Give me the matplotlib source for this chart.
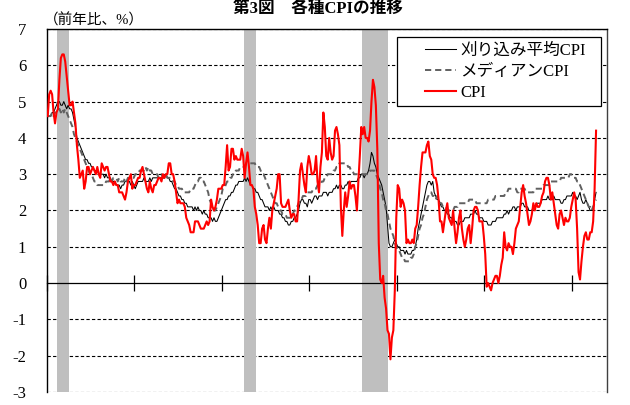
import numpy as np
import pandas as pd
import matplotlib
matplotlib.use("Agg")
import matplotlib.pyplot as plt
from matplotlib.patches import Rectangle

plt.rcParams['font.family'] = ['Liberation Serif', 'Noto Sans CJK JP']

# Monthly observations, Dec 1989 - Apr 2021 (year-over-year, %)
months = pd.period_range("1989-12", "2021-04", freq="M")

cpi = [
    4.6,
    5.2, 5.3, 5.2, 4.7, 4.4, 4.7, 4.8, 5.6, 6.2, 6.3, 6.3, 6.1,   # 1990
    5.7, 5.3, 4.9, 4.9, 5.0, 4.7, 4.4, 3.8, 3.4, 2.9, 3.0, 3.1,   # 1991
    2.6, 2.8, 3.2, 3.2, 3.0, 3.1, 3.2, 3.1, 3.0, 3.2, 3.0, 2.9,   # 1992
    3.3, 3.2, 3.1, 3.2, 3.2, 3.0, 2.8, 2.8, 2.7, 2.8, 2.7, 2.7,   # 1993
    2.5, 2.5, 2.5, 2.4, 2.3, 2.5, 2.8, 2.9, 3.0, 2.6, 2.7, 2.7,   # 1994
    2.8, 2.9, 2.9, 3.1, 3.2, 3.0, 2.8, 2.6, 2.5, 2.8, 2.6, 2.5,   # 1995
    2.7, 2.7, 2.8, 2.9, 2.9, 2.8, 3.0, 2.9, 3.0, 3.0, 3.3, 3.3,   # 1996
    3.0, 3.0, 2.8, 2.5, 2.2, 2.3, 2.2, 2.2, 2.2, 2.1, 1.8, 1.7,   # 1997
    1.6, 1.4, 1.4, 1.4, 1.7, 1.7, 1.7, 1.6, 1.5, 1.5, 1.5, 1.6,   # 1998
    1.7, 1.6, 1.7, 2.3, 2.1, 2.0, 2.1, 2.3, 2.6, 2.6, 2.6, 2.7,   # 1999
    2.7, 3.2, 3.8, 3.1, 3.2, 3.7, 3.7, 3.4, 3.5, 3.4, 3.4, 3.4,   # 2000
    3.7, 3.5, 2.9, 3.3, 3.6, 3.2, 2.7, 2.7, 2.6, 2.1, 1.9, 1.6,   # 2001
    1.1, 1.1, 1.5, 1.6, 1.2, 1.1, 1.5, 1.8, 1.5, 2.0, 2.2, 2.4,   # 2002
    2.6, 3.0, 3.0, 2.2, 2.1, 2.1, 2.1, 2.2, 2.3, 2.0, 1.8, 1.9,   # 2003
    1.9, 1.7, 1.7, 2.3, 3.1, 3.3, 3.0, 2.7, 2.5, 3.2, 3.5, 3.3,   # 2004
    3.0, 3.0, 3.1, 3.5, 2.8, 2.5, 3.2, 3.6, 4.7, 4.3, 3.5, 3.4,   # 2005
    4.0, 3.6, 3.4, 3.5, 4.2, 4.3, 4.1, 3.8, 2.1, 1.3, 2.0, 2.5,   # 2006
    2.1, 2.4, 2.8, 2.6, 2.7, 2.7, 2.4, 2.0, 2.8, 3.5, 4.3, 4.1,   # 2007
    4.3, 4.0, 4.0, 3.9, 4.2, 5.0, 5.6, 5.4, 4.9, 3.7, 1.1, 0.1,   # 2008
    0.0, 0.2, -0.4, -0.7, -1.3, -1.4, -2.1, -1.5, -1.3, -0.2, 1.8, 2.7,  # 2009
    2.6, 2.1, 2.3, 2.2, 2.0, 1.1, 1.2, 1.1, 1.1, 1.2, 1.1, 1.5,   # 2010
    1.6, 2.1, 2.7, 3.2, 3.6, 3.6, 3.6, 3.8, 3.9, 3.5, 3.4, 3.0,   # 2011
    2.9, 2.9, 2.7, 2.3, 1.7, 1.7, 1.4, 1.7, 2.0, 2.2, 1.8, 1.7,   # 2012
    1.6, 2.0, 1.5, 1.1, 1.4, 1.8, 2.0, 1.5, 1.2, 1.0, 1.2, 1.5,   # 2013
    1.6, 1.1, 1.5, 2.0, 2.1, 2.1, 2.0, 1.7, 1.7, 1.7, 1.3, 0.8,   # 2014
    -0.1, 0.0, -0.1, -0.2, 0.0, 0.1, 0.2, 0.2, 0.0, 0.2, 0.5, 0.7,  # 2015
    1.4, 1.0, 0.9, 1.1, 1.0, 1.0, 0.8, 1.1, 1.5, 1.6, 1.7, 2.1,   # 2016
    2.5, 2.7, 2.4, 2.2, 1.9, 1.6, 1.7, 1.9, 2.2, 2.0, 2.2, 2.1,   # 2017
    2.1, 2.2, 2.4, 2.5, 2.8, 2.9, 2.9, 2.7, 2.3, 2.5, 2.2, 1.9,   # 2018
    1.6, 1.5, 1.9, 2.0, 1.8, 1.6, 1.8, 1.7, 1.7, 1.8, 2.1, 2.3,   # 2019
    2.5, 2.3, 1.5, 0.3, 0.1, 0.6, 1.0, 1.3, 1.4, 1.2, 1.2, 1.4,   # 2020
    1.4, 1.7, 2.6, 4.2,                                           # 2021
]

trimmed_mean = [
    4.6,
    4.6, 4.6, 4.7, 4.7, 4.8, 4.9, 5.0, 5.0, 4.9, 4.9, 5.0, 4.9,   # 1990
    4.8, 4.9, 4.8, 4.8, 4.7, 4.5, 4.3, 4.0, 3.9, 3.8, 3.7, 3.6,   # 1991
    3.5, 3.4, 3.4, 3.3, 3.3, 3.2, 3.2, 3.1, 3.1, 3.1, 3.0, 3.0,   # 1992
    3.0, 3.0, 2.9, 3.0, 2.9, 2.9, 2.9, 2.8, 2.8, 2.8, 2.7, 2.7,   # 1993
    2.7, 2.6, 2.7, 2.7, 2.8, 2.8, 2.8, 2.8, 2.7, 2.8, 2.7, 2.6,   # 1994
    2.7, 2.8, 2.8, 2.8, 2.8, 2.9, 2.8, 2.8, 2.8, 2.9, 2.8, 2.9,   # 1995
    2.9, 2.9, 2.9, 2.9, 2.9, 2.9, 2.9, 2.9, 3.0, 2.9, 2.9, 2.8,   # 1996
    2.8, 2.7, 2.6, 2.6, 2.5, 2.4, 2.4, 2.3, 2.3, 2.2, 2.2, 2.1,   # 1997
    2.1, 2.1, 2.1, 2.0, 2.1, 2.0, 2.1, 2.0, 2.0, 1.9, 2.0, 1.9,   # 1998
    1.9, 1.8, 1.8, 1.8, 1.7, 1.8, 1.7, 1.7, 1.8, 1.9, 2.0, 2.1,   # 1999
    2.2, 2.3, 2.3, 2.4, 2.4, 2.5, 2.5, 2.6, 2.7, 2.7, 2.8, 2.8,   # 2000
    2.8, 2.8, 2.9, 2.8, 2.9, 2.8, 2.7, 2.7, 2.6, 2.6, 2.5, 2.5,   # 2001
    2.4, 2.3, 2.3, 2.2, 2.1, 2.1, 2.1, 2.0, 2.1, 2.0, 2.1, 2.0,   # 2002
    2.0, 2.0, 1.9, 1.9, 1.8, 1.8, 1.7, 1.7, 1.6, 1.6, 1.7, 1.7,   # 2003
    1.8, 1.8, 1.9, 2.0, 2.2, 2.3, 2.3, 2.2, 2.2, 2.1, 2.3, 2.3,   # 2004
    2.2, 2.3, 2.4, 2.4, 2.3, 2.4, 2.4, 2.4, 2.5, 2.5, 2.5, 2.4,   # 2005
    2.5, 2.5, 2.5, 2.6, 2.6, 2.7, 2.6, 2.7, 2.7, 2.6, 2.6, 2.7,   # 2006
    2.7, 2.8, 2.7, 2.8, 2.8, 2.8, 2.8, 2.8, 2.9, 2.9, 3.0, 3.0,   # 2007
    2.9, 3.0, 3.0, 3.1, 3.3, 3.6, 3.5, 3.3, 3.2, 3.0, 2.9, 2.8,   # 2008
    2.7, 2.5, 2.3, 2.1, 1.6, 1.1, 1.0, 1.0, 1.1, 1.2, 1.1, 1.0,   # 2009
    1.0, 0.9, 0.9, 0.9, 0.8, 0.9, 0.8, 0.8, 0.8, 0.9, 0.9, 1.0,   # 2010
    1.2, 1.5, 1.7, 1.9, 2.1, 2.3, 2.5, 2.7, 2.8, 2.8, 2.7, 2.8,   # 2011
    2.5, 2.4, 2.3, 2.3, 2.2, 2.1, 2.1, 2.0, 2.0, 1.9, 1.9, 1.8,   # 2012
    1.8, 1.7, 1.7, 1.7, 1.6, 1.6, 1.7, 1.7, 1.7, 1.8, 1.8, 1.8,   # 2013
    1.8, 1.9, 1.9, 1.9, 2.0, 1.9, 1.9, 1.8, 1.8, 1.8, 1.7, 1.7,   # 2014
    1.7, 1.6, 1.6, 1.6, 1.7, 1.7, 1.7, 1.8, 1.8, 1.8, 1.8, 1.8,   # 2015
    1.9, 1.9, 2.0, 1.9, 2.0, 2.0, 2.1, 2.1, 2.0, 2.1, 2.1, 2.1,   # 2016
    2.2, 2.2, 2.1, 2.1, 2.1, 2.0, 2.0, 2.0, 2.1, 2.1, 2.2, 2.2,   # 2017
    2.2, 2.2, 2.3, 2.3, 2.3, 2.3, 2.4, 2.3, 2.3, 2.3, 2.4, 2.3,   # 2018
    2.3, 2.3, 2.3, 2.2, 2.2, 2.3, 2.3, 2.4, 2.4, 2.4, 2.4, 2.5,   # 2019
    2.4, 2.4, 2.3, 2.4, 2.5, 2.3, 2.2, 2.2, 2.3, 2.2, 2.1, 2.0,   # 2020
    2.0, 2.1, 2.3, 2.5,                                           # 2021
]

median = [
    4.6,
    4.6, 4.6, 4.7, 4.6, 4.7, 4.7, 4.7, 4.8, 4.7, 4.8, 4.7, 4.8,   # 1990
    4.7, 4.6, 4.5, 4.4, 4.3, 4.1, 4.0, 3.9, 3.8, 3.7, 3.6, 3.5,   # 1991
    3.4, 3.3, 3.2, 3.1, 3.0, 3.0, 2.9, 2.8, 2.8, 2.7, 2.7, 2.7,   # 1992
    2.7, 2.7, 2.7, 2.8, 2.8, 2.8, 2.9, 2.8, 2.9, 2.9, 2.9, 2.8,   # 1993
    2.9, 2.8, 2.8, 2.8, 2.9, 2.8, 2.9, 2.9, 2.9, 2.9, 2.9, 3.0,   # 1994
    3.0, 3.0, 3.1, 3.1, 3.1, 3.1, 3.2, 3.1, 3.2, 3.1, 3.1, 3.0,   # 1995
    3.0, 3.0, 3.0, 2.9, 2.9, 3.0, 2.9, 2.9, 3.0, 2.9, 2.9, 2.9,   # 1996
    2.9, 2.8, 2.8, 2.7, 2.7, 2.6, 2.6, 2.6, 2.5, 2.5, 2.5, 2.5,   # 1997
    2.5, 2.6, 2.6, 2.6, 2.7, 2.8, 2.8, 2.9, 2.9, 2.8, 2.8, 2.7,   # 1998
    2.6, 2.5, 2.3, 2.2, 2.1, 2.0, 2.0, 2.1, 2.2, 2.3, 2.4, 2.6,   # 1999
    2.6, 2.7, 2.8, 2.8, 2.9, 2.9, 3.0, 3.0, 3.1, 3.1, 3.1, 3.2,   # 2000
    3.2, 3.2, 3.2, 3.3, 3.3, 3.3, 3.3, 3.3, 3.3, 3.3, 3.2, 3.2,   # 2001
    3.2, 3.1, 3.0, 3.0, 2.9, 2.8, 2.7, 2.6, 2.5, 2.4, 2.3, 2.2,   # 2002
    2.2, 2.1, 2.0, 2.0, 1.9, 1.9, 1.9, 1.8, 1.8, 1.8, 1.9, 1.9,   # 2003
    2.0, 2.0, 2.1, 2.2, 2.3, 2.3, 2.4, 2.4, 2.4, 2.5, 2.5, 2.5,   # 2004
    2.5, 2.6, 2.6, 2.6, 2.7, 2.7, 2.7, 2.8, 2.8, 2.9, 2.9, 3.0,   # 2005
    3.0, 3.0, 3.0, 3.1, 3.1, 3.2, 3.2, 3.3, 3.3, 3.3, 3.3, 3.3,   # 2006
    3.3, 3.2, 3.2, 3.1, 3.1, 3.0, 3.0, 3.0, 3.0, 3.0, 3.0, 3.0,   # 2007
    3.0, 3.0, 3.0, 3.0, 3.1, 3.1, 3.1, 3.1, 3.0, 2.9, 2.8, 2.6,   # 2008
    2.5, 2.3, 2.2, 2.0, 1.9, 1.7, 1.5, 1.4, 1.3, 1.1, 1.0, 0.9,   # 2009
    0.9, 0.8, 0.7, 0.7, 0.6, 0.6, 0.6, 0.6, 0.7, 0.7, 0.8, 1.0,   # 2010
    1.1, 1.3, 1.5, 1.6, 1.8, 1.9, 2.1, 2.3, 2.4, 2.5, 2.5, 2.4,   # 2011
    2.4, 2.3, 2.4, 2.3, 2.2, 2.2, 2.1, 2.1, 2.1, 2.0, 2.0, 2.0,   # 2012
    2.0, 2.0, 2.1, 2.1, 2.1, 2.2, 2.2, 2.2, 2.2, 2.2, 2.2, 2.2,   # 2013
    2.3, 2.3, 2.3, 2.3, 2.3, 2.2, 2.2, 2.2, 2.2, 2.2, 2.2, 2.2,   # 2014
    2.2, 2.3, 2.3, 2.3, 2.3, 2.3, 2.4, 2.4, 2.4, 2.4, 2.4, 2.4,   # 2015
    2.4, 2.5, 2.5, 2.6, 2.6, 2.6, 2.6, 2.6, 2.6, 2.5, 2.5, 2.6,   # 2016
    2.6, 2.6, 2.6, 2.5, 2.5, 2.5, 2.5, 2.5, 2.5, 2.6, 2.6, 2.6,   # 2017
    2.6, 2.6, 2.6, 2.7, 2.7, 2.7, 2.7, 2.7, 2.8, 2.8, 2.8, 2.8,   # 2018
    2.8, 2.8, 2.8, 2.9, 2.9, 2.9, 2.9, 2.9, 2.9, 3.0, 3.0, 2.9,   # 2019
    2.9, 2.9, 2.8, 2.8, 2.7, 2.6, 2.5, 2.4, 2.3, 2.2, 2.1, 2.1,   # 2020
    2.0, 2.1, 2.2, 2.3,                                           # 2021
]

# NBER recession months (shaded)
recessions = [("1990-07", "1991-02"), ("2001-03", "2001-10"), ("2007-12", "2009-05")]

series_labels = ["刈り込み平均CPI", "メディアンCPI", "CPI"]
title = "第3図　各種CPIの推移"
unit_label = "（前年比、%）"
y_ticks = [-3, -2, -1, 0, 1, 2, 3, 4, 5, 6, 7]

x = np.arange(len(months))

W, H = 630, 405
fig = plt.figure(figsize=(W / 100, H / 100), dpi=100)
ax = fig.add_axes([47 / W, 1 - 392 / H, 560 / W, 363 / H])

n_slots = 384
ax.set_xlim(-0.5, n_slots - 0.5)
ax.set_ylim(-3, 7)

# horizontal guides
for v in y_ticks:
    if v != 0:
        ax.axhline(v, color="black", lw=0.8, ls=(0, (3, 2)), zorder=1)

# recession shading
for start, end in recessions:
    i0 = months.get_loc(pd.Period(start, "M"))
    i1 = months.get_loc(pd.Period(end, "M"))
    ax.axvspan(i0 - 0.5, i1 + 0.5, color="#bfbfbf", lw=0, zorder=1.5)

l_trim, = ax.plot(x, trimmed_mean, color="black", lw=0.75, zorder=3,
                  label=series_labels[0])
l_med, = ax.plot(x, median, color="#606060", lw=1.4, ls=(0, (3.2, 2.0)),
                 zorder=3.1, label=series_labels[1])
l_cpi, = ax.plot(x, cpi, color="#ff0000", lw=1.5, zorder=3.2,
                 label=series_labels[2])

# axes frame: x-axis runs along zero
for s in ["left", "top"]:
    ax.spines[s].set_color("black")
    ax.spines[s].set_linewidth(1.0)
ax.spines["right"].set_color("#404040")
ax.spines["right"].set_linewidth(1.0)
ax.spines["bottom"].set_position(("data", 0))
ax.spines["bottom"].set_linewidth(0.9)
ax.spines["bottom"].set_zorder(2.5)

ax.set_xticks(np.arange(-0.5, n_slots, 60))
ax.tick_params(axis="x", direction="inout", length=11, width=0.9,
               labelbottom=False, color="black")
ax.set_yticks(y_ticks)
ax.set_yticklabels([str(v) for v in y_ticks])
ax.tick_params(axis="y", length=0, pad=15, labelsize=12)

# legend box
ax.add_patch(Rectangle((0.625, 0.788), 0.364, 0.190, transform=ax.transAxes,
                       facecolor="white", edgecolor="black", lw=0.9, zorder=4.5))
leg = ax.legend(handles=[l_trim, l_med, l_cpi], loc="center left",
                bbox_to_anchor=(0.661, 0.8815), frameon=False, borderpad=0,
                handlelength=1.85, handletextpad=0.25, labelspacing=0.3,
                fontsize=12)
leg.set_zorder(5)

fig.text(44 / W, 1 - 20 / H, unit_label, fontsize=10.5, va="center", ha="left")
fig.text(318 / W, 1 - 1 / H, title, fontsize=12, fontweight="bold",
         va="top", ha="center")

fig.savefig("out.png", dpi=100)
